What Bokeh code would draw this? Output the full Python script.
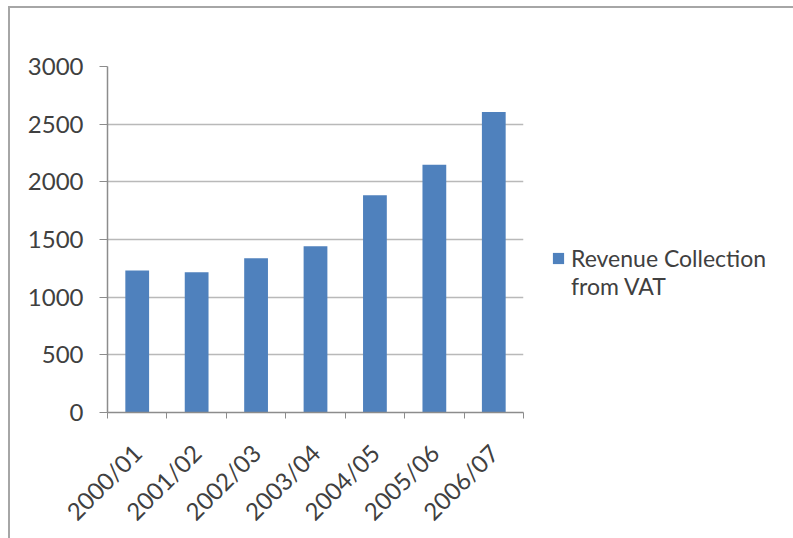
from bokeh.plotting import figure
from bokeh.models import (ColumnDataSource, Range1d, FixedTicker, Legend, LegendItem)
from bokeh.embed import file_html
from bokeh.resources import INLINE

# ---- data ----
categories = ["2000/01", "2001/02", "2002/03", "2003/04", "2004/05", "2005/06", "2006/07"]
vat_revenue = [1232, 1217, 1338, 1442, 1884, 2149, 2605]
y_ticks = [0, 500, 1000, 1500, 2000, 2500, 3000]
series_name_lines = ["Revenue Collection", "from VAT"]

BAR = "#4f81bd"
TXT = "#404040"
FONT = "Lato"

xs = [i + 0.5 for i in range(len(categories))]
src = ColumnDataSource(dict(x=xs, top=vat_revenue, cat=categories))

p = figure(output_backend="svg", toolbar_location=None,
           frame_width=416, frame_height=346,
           min_border_left=97, min_border_top=58, min_border_right=255, min_border_bottom=100,
           x_range=Range1d(0, len(categories)), y_range=Range1d(0, 3000))
p.styles = {"margin-left": "8px", "margin-top": "6px",
            "border-left": "2px solid #a6a6a6", "border-top": "2px solid #a6a6a6"}
p.outline_line_color = None
p.background_fill_color = "white"
p.border_fill_color = "white"

r = p.vbar(x="x", top="top", width=0.4, bottom=0, source=src,
           fill_color=BAR, line_color=None)
# empty, invisible renderer so the legend's second line carries no swatch
r_blank = p.vbar(x=[], top=[], width=0.4, fill_alpha=0, line_alpha=0)

# x axis
xa = p.xaxis[0]
xa.ticker = FixedTicker(ticks=xs, minor_ticks=list(range(len(categories) + 1)))
xa.major_label_overrides = {x: c for x, c in zip(xs, categories)}
xa.major_label_orientation = 0.785398
xa.major_tick_line_color = None
xa.minor_tick_out = 6
xa.minor_tick_in = 0
xa.minor_tick_line_color = "#8c8c8c"
xa.axis_line_color = "#8c8c8c"
xa.axis_line_width = 1.5
xa.major_label_text_font = FONT
xa.major_label_text_font_size = "24px"
xa.major_label_text_color = TXT
xa.major_label_standoff = 30

# y axis
ya = p.yaxis[0]
ya.ticker = FixedTicker(ticks=y_ticks)
ya.minor_tick_line_color = None
ya.major_tick_out = 8
ya.major_tick_in = 0
ya.major_tick_line_color = "#8c8c8c"
ya.axis_line_color = "#8c8c8c"
ya.axis_line_width = 1.5
ya.major_label_text_font = FONT
ya.major_label_text_font_size = "24px"
ya.major_label_text_color = TXT
ya.major_label_standoff = 16

p.xgrid.grid_line_color = None
p.ygrid.grid_line_color = "#b9b9b9"
p.ygrid.grid_line_width = 1.5

legend = Legend(items=[LegendItem(label=series_name_lines[0], renderers=[r]),
                       LegendItem(label=series_name_lines[1], renderers=[r_blank])],
                location=(28, 112), orientation="vertical", spacing=-3,
                border_line_color=None, background_fill_alpha=0,
                padding=0, margin=0, glyph_width=14, glyph_height=14,
                label_standoff=6, label_text_font=FONT,
                label_text_font_size="23px", label_text_color=TXT)
p.add_layout(legend, "right")

open("out.html", "w").write(file_html(p, INLINE))
